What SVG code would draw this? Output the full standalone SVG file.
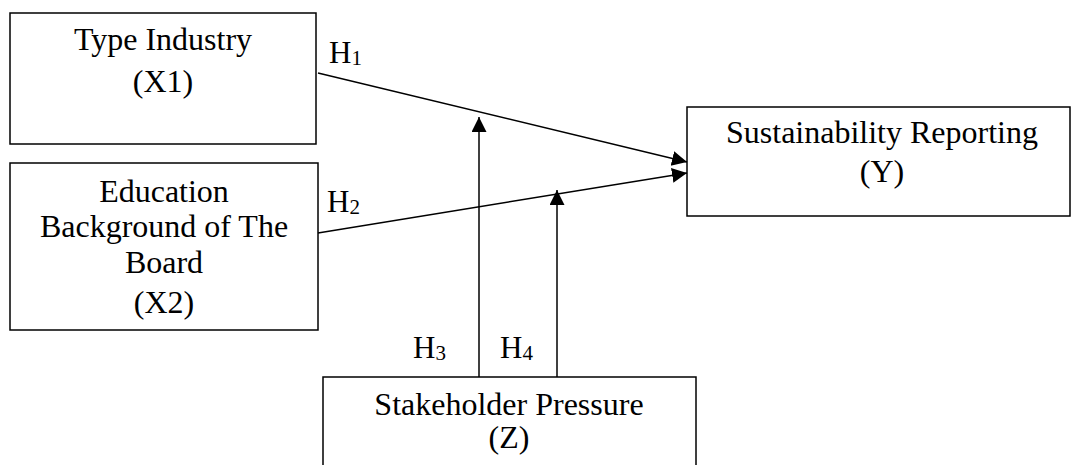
<svg xmlns="http://www.w3.org/2000/svg" width="1072" height="465" viewBox="0 0 1072 465">
<style>
  .box { fill: #fff; stroke: #000; stroke-width: 1.5; }
  .lbl { font-family: "Liberation Serif", "Times New Roman", serif; font-size: 32px; fill: #000; text-anchor: middle; }
  .h { font-family: "Liberation Serif", "Times New Roman", serif; font-size: 31px; fill: #000; }
  .sub { font-size: 21px; }
  .conn { stroke: #000; stroke-width: 1.5; fill: none; }
</style>
<defs>
  <marker id="arr" markerUnits="userSpaceOnUse" markerWidth="16" markerHeight="16" refX="15" refY="7.5" orient="auto">
    <path d="M0,0 L15,7.5 L0,15 z" fill="#000"/>
  </marker>
</defs>
<rect width="1072" height="465" fill="#fff"/>
<g id="node-x1">
  <rect class="box" x="10" y="13" width="306" height="131"/>
  <text class="lbl" x="163" y="50">Type Industry</text>
  <text class="lbl" x="163" y="92">(X1)</text>
</g>
<g id="node-x2">
  <rect class="box" x="10" y="163" width="308" height="167"/>
  <text class="lbl" x="164" y="202">Education</text>
  <text class="lbl" x="164" y="237">Background of The</text>
  <text class="lbl" x="164" y="273">Board</text>
  <text class="lbl" x="164" y="313">(X2)</text>
</g>
<g id="node-y">
  <rect class="box" x="687" y="107" width="383" height="109"/>
  <text class="lbl" x="882" y="143">Sustainability Reporting</text>
  <text class="lbl" x="882" y="182">(Y)</text>
</g>
<g id="node-z">
  <rect class="box" x="323" y="377" width="373" height="100"/>
  <text class="lbl" x="509" y="415">Stakeholder Pressure</text>
  <text class="lbl" x="509" y="448">(Z)</text>
</g>
<g id="connectors">
  <line class="conn" x1="318" y1="73" x2="687" y2="162" marker-end="url(#arr)"/>
  <line class="conn" x1="318" y1="233" x2="687" y2="173" marker-end="url(#arr)"/>
  <line class="conn" x1="479" y1="377" x2="479" y2="117" marker-end="url(#arr)"/>
  <line class="conn" x1="557" y1="377" x2="557" y2="190" marker-end="url(#arr)"/>
  <text class="h" x="329" y="63">H<tspan class="sub" dy="2">1</tspan></text>
  <text class="h" x="327" y="212">H<tspan class="sub" dy="2">2</tspan></text>
  <text class="h" x="413" y="358">H<tspan class="sub" dy="2">3</tspan></text>
  <text class="h" x="500" y="358">H<tspan class="sub" dy="2">4</tspan></text>
</g>
</svg>
